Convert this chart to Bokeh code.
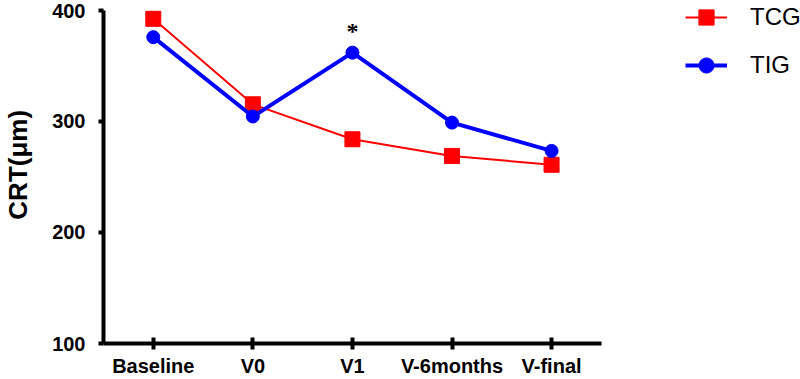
from bokeh.plotting import figure
from bokeh.models import Range1d, FixedTicker, Legend, LegendItem
from bokeh.embed import file_html
from bokeh.resources import INLINE

# Visits and mean central retinal thickness per group
visits = ["Baseline", "V0", "V1", "V-6months", "V-final"]
tcg_crt = [392.5, 315.5, 284.0, 269.0, 261.0]
tig_crt = [376.0, 304.5, 362.0, 299.0, 273.5]
y_ticks = [100, 200, 300, 400]

# significance marker
sig_visit = ["V1"]
sig_mark = ["*"]

FONT = "Liberation Sans"

# visits sit at the centre of unit-wide slots; the axis spans only the visit slots,
# leaving room on the right of the frame for the legend
vx = [i + 0.5 for i in range(len(visits))]
n_slots = len(visits)

p = figure(width=800, height=379, x_range=Range1d(0, 7), y_range=Range1d(100, 409),
           output_backend="svg", toolbar_location=None,
           min_border_left=100, min_border_right=0, min_border_top=0, min_border_bottom=36)
p.outline_line_color = None
p.xgrid.visible = False
p.ygrid.visible = False
p.background_fill_color = "white"
p.border_fill_color = "white"

red_line = p.line(vx, tcg_crt, line_color="#ff0000", line_width=2)
red_pts = p.scatter(vx, tcg_crt, marker="square", size=15, fill_color="#ff0000", line_color="#ff0000")
blue_line = p.line(vx, tig_crt, line_color="#0000ff", line_width=4)
blue_pts = p.scatter(vx, tig_crt, marker="circle", size=13, fill_color="#0000ff", line_color="#0000ff")

sig_x = [vx[visits.index(v)] for v in sig_visit]
sig_y = [tig_crt[visits.index(v)] for v in sig_visit]
p.text(x=sig_x, y=sig_y, text=sig_mark, text_align="center", text_baseline="alphabetic",
       y_offset=-22, text_font_size="24px", text_font_style="bold", text_color="black",
       text_font=FONT)

# axes
for ax in (p.xaxis[0], p.yaxis[0]):
    ax.axis_line_width = 4
    ax.axis_line_color = "black"
    ax.major_tick_line_width = 4
    ax.major_tick_line_color = "black"
    ax.minor_tick_line_color = None
    ax.major_label_text_font = FONT
    ax.major_label_text_font_style = "bold"
    ax.major_label_text_color = "black"

p.xaxis.bounds = (0, n_slots)
p.xaxis.ticker = FixedTicker(ticks=vx)
p.xaxis.major_label_overrides = {x: name for x, name in zip(vx, visits)}
p.xaxis.major_tick_in = 6
p.xaxis.major_tick_out = 6
p.xaxis.major_label_text_font_size = "20px"
p.xaxis.major_label_text_line_height = 1.0
p.xaxis.major_label_standoff = 5

p.yaxis.bounds = (y_ticks[0], y_ticks[-1])
p.yaxis.ticker = FixedTicker(ticks=y_ticks)
p.yaxis.major_tick_in = 0
p.yaxis.major_tick_out = 5
p.yaxis.major_label_text_font_size = "20px"
p.yaxis.major_label_standoff = 13
p.yaxis.axis_label = "\u00a0\u00a0CRT(\u03bcm)"
p.yaxis.axis_label_text_font = FONT
p.yaxis.axis_label_text_font_size = "26px"
p.yaxis.axis_label_text_font_style = "bold"
p.yaxis.axis_label_text_color = "black"
p.yaxis.axis_label_standoff = 16

legend = Legend(items=[LegendItem(label="TCG", renderers=[red_line, red_pts]),
                       LegendItem(label="TIG", renderers=[blue_line, blue_pts])],
                location=(582, 259), glyph_width=42, glyph_height=38, spacing=10, padding=0,
                margin=0, label_standoff=23, label_text_font=FONT, label_text_font_size="24px",
                label_text_color="black", border_line_color=None, background_fill_alpha=0)
p.add_layout(legend, "center")

open("out.html", "w").write(file_html(p, INLINE))
